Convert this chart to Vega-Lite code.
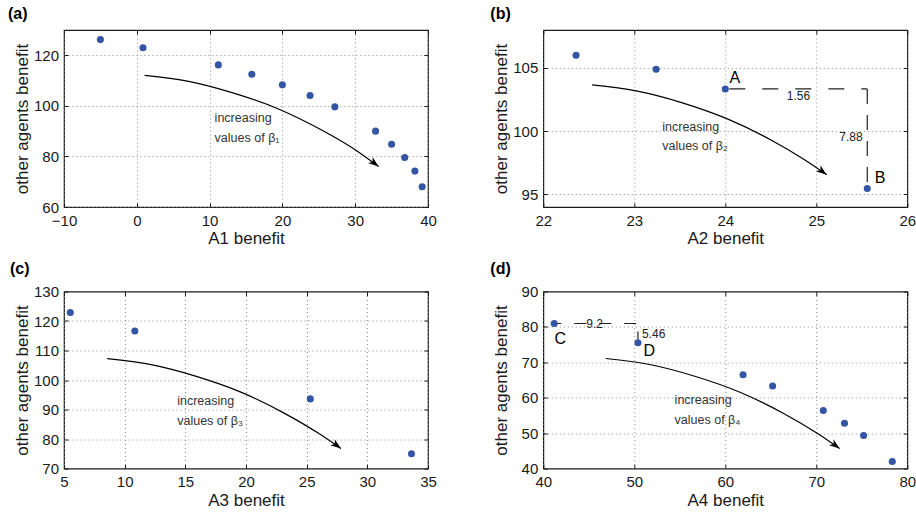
{
  "$schema": "https://vega.github.io/schema/vega-lite/v6.json",
  "background": "white",
  "padding": {"left": 7, "top": 5, "right": 0, "bottom": 0},
  "bounds": "flush",
  "columns": 2,
  "spacing": {"row": 84.5, "column": 115.3},
  "datasets": {
    "points": [
      {"panel": "a", "x": -5.0, "y": 126.2}, {"panel": "a", "x": 0.85, "y": 123.0}, {"panel": "a", "x": 11.2, "y": 116.2},
      {"panel": "a", "x": 15.8, "y": 112.5}, {"panel": "a", "x": 20.0, "y": 108.3}, {"panel": "a", "x": 23.8, "y": 104.1},
      {"panel": "a", "x": 27.2, "y": 99.6}, {"panel": "a", "x": 32.8, "y": 90.0}, {"panel": "a", "x": 35.0, "y": 84.8},
      {"panel": "a", "x": 36.8, "y": 79.6}, {"panel": "a", "x": 38.2, "y": 74.2}, {"panel": "a", "x": 39.2, "y": 68.0},
      {"panel": "b", "x": 22.36, "y": 106.0}, {"panel": "b", "x": 23.24, "y": 104.9}, {"panel": "b", "x": 24.0, "y": 103.34}, {"panel": "b", "x": 25.56, "y": 95.46},
      {"panel": "c", "x": 5.52, "y": 122.9}, {"panel": "c", "x": 10.84, "y": 116.6}, {"panel": "c", "x": 25.3, "y": 93.6}, {"panel": "c", "x": 33.64, "y": 75.0},
      {"panel": "d", "x": 41.2, "y": 80.96}, {"panel": "d", "x": 50.4, "y": 75.5}, {"panel": "d", "x": 61.95, "y": 66.5}, {"panel": "d", "x": 65.2, "y": 63.3},
      {"panel": "d", "x": 70.77, "y": 56.4}, {"panel": "d", "x": 73.1, "y": 52.8}, {"panel": "d", "x": 75.2, "y": 49.3}, {"panel": "d", "x": 78.35, "y": 42.0}
    ],
    "curves": [
      {"panel": "a", "x": 1.07, "y": 112.09}, {"panel": "a", "x": 7.12, "y": 109.7}, {"panel": "a", "x": 13.43, "y": 104.93},
      {"panel": "a", "x": 19.62, "y": 98.57}, {"panel": "a", "x": 25.52, "y": 90.22}, {"panel": "a", "x": 30.19, "y": 82.27}, {"panel": "a", "x": 33.21, "y": 76.0},
      {"panel": "b", "x": 22.536, "y": 103.66}, {"panel": "b", "x": 23.021, "y": 103.18}, {"panel": "b", "x": 23.528, "y": 102.24},
      {"panel": "b", "x": 24.023, "y": 100.97}, {"panel": "b", "x": 24.497, "y": 99.32}, {"panel": "b", "x": 24.871, "y": 97.74}, {"panel": "b", "x": 25.113, "y": 96.56},
      {"panel": "c", "x": 8.564, "y": 107.22}, {"panel": "c", "x": 12.185, "y": 105.19}, {"panel": "c", "x": 15.971, "y": 101.13},
      {"panel": "c", "x": 19.675, "y": 95.72}, {"panel": "c", "x": 23.214, "y": 88.61}, {"panel": "c", "x": 26.012, "y": 81.84}, {"panel": "c", "x": 27.823, "y": 76.77},
      {"panel": "d", "x": 46.85, "y": 71.07}, {"panel": "d", "x": 51.68, "y": 69.38}, {"panel": "d", "x": 56.74, "y": 65.99},
      {"panel": "d", "x": 61.68, "y": 61.47}, {"panel": "d", "x": 66.41, "y": 55.54}, {"panel": "d", "x": 70.14, "y": 49.89}, {"panel": "d", "x": 72.56, "y": 45.66}
    ],
    "tips": [
      {"panel": "a", "x": 33.21, "y": 76.0},
      {"panel": "b", "x": 25.113, "y": 96.56},
      {"panel": "c", "x": 27.823, "y": 76.77},
      {"panel": "d", "x": 72.56, "y": 45.66}
    ],
    "notes": [
      {"panel": "a", "kind": "label", "x": 10.69, "y": 93.56, "text": "increasing"},
      {"panel": "a", "kind": "label", "x": 10.69, "y": 85.84, "text": "values of β₁"},
      {"panel": "b", "kind": "label", "x": 23.307, "y": 100.0, "text": "increasing"},
      {"panel": "b", "kind": "label", "x": 23.307, "y": 98.5, "text": "values of β₂"},
      {"panel": "c", "kind": "label", "x": 14.33, "y": 91.66, "text": "increasing"},
      {"panel": "c", "kind": "label", "x": 14.33, "y": 84.89, "text": "values of β₃"},
      {"panel": "d", "kind": "label", "x": 54.43, "y": 58.08, "text": "increasing"},
      {"panel": "d", "kind": "label", "x": 54.43, "y": 52.43, "text": "values of β₄"},
      {"panel": "b", "kind": "letter", "x": 24.045, "y": 103.84, "text": "A"},
      {"panel": "b", "kind": "letter", "x": 25.642, "y": 95.87, "text": "B"},
      {"panel": "d", "kind": "letter", "x": 41.24, "y": 75.23, "text": "C"},
      {"panel": "d", "kind": "letter", "x": 51.02, "y": 71.72, "text": "D"},
      {"panel": "b", "kind": "value", "x": 24.676, "y": 102.45, "text": "1.56"},
      {"panel": "b", "kind": "value", "x": 25.252, "y": 99.24, "text": "7.88"},
      {"panel": "d", "kind": "value", "x": 44.73, "y": 79.75, "text": "9.2"},
      {"panel": "d", "kind": "value", "x": 50.85, "y": 76.92, "text": "5.46"}
    ],
    "dashes": [
      {"panel": "b", "seg": "h", "x": 24.0, "y": 103.34, "x2": 25.56, "y2": 103.34},
      {"panel": "b", "seg": "v", "x": 25.56, "y": 103.34, "x2": 25.56, "y2": 95.46},
      {"panel": "d", "seg": "h", "x": 41.2, "y": 80.96, "x2": 50.4, "y2": 80.96},
      {"panel": "d", "seg": "v", "x": 50.4, "y": 80.96, "x2": 50.4, "y2": 75.5}
    ]
  },
  "concat": [
    {
      "width": 364, "height": 177,
      "title": {"text": "(a)", "dx": -56},
      "resolve": {"axis": {"x": "independent", "y": "independent"}},
      "layer": [
        {
          "data": {"name": "curves"},
          "transform": [{"filter": "datum.panel == 'a'"}],
          "mark": {"type": "line", "interpolate": "monotone", "color": "#000", "strokeWidth": 1.2},
          "encoding": {
            "x": {"field": "x", "type": "quantitative", "scale": {"domain": [-10, 40], "nice": false, "zero": false}, "axis": {"values": [-10, 0, 10, 20, 30, 40], "title": "A1 benefit"}},
            "y": {"field": "y", "type": "quantitative", "scale": {"domain": [60, 130], "nice": false, "zero": false}, "axis": {"values": [60, 80, 100, 120], "title": "other agents benefit"}}
          }
        },
        {
          "data": {"name": "tips"},
          "transform": [{"filter": "datum.panel == 'a'"}],
          "mark": {"type": "point", "shape": "M0,0L-0.75,2.1L0,1.5L0.75,2.1Z", "filled": true, "color": "#000", "opacity": 1, "size": 100, "angle": 128},
          "encoding": {"x": {"field": "x", "type": "quantitative", "axis": null}, "y": {"field": "y", "type": "quantitative", "axis": null}}
        },
        {
          "data": {"name": "points"},
          "transform": [{"filter": "datum.panel == 'a'"}],
          "mark": {"type": "circle", "color": "#3454a4", "opacity": 1, "size": 50},
          "encoding": {
            "x": {"field": "x", "type": "quantitative", "axis": {"orient": "top", "values": [-10, 0, 10, 20, 30, 40], "labels": false, "grid": false, "title": null}},
            "y": {"field": "y", "type": "quantitative", "axis": {"orient": "right", "values": [60, 80, 100, 120], "labels": false, "grid": false, "title": null}}
          }
        },
        {
          "data": {"name": "notes"},
          "transform": [{"filter": "datum.panel == 'a' && datum.kind == 'label'"}],
          "mark": {"type": "text", "align": "left", "baseline": "alphabetic", "fontSize": 12.5, "color": "#333"},
          "encoding": {"x": {"field": "x", "type": "quantitative", "axis": null}, "y": {"field": "y", "type": "quantitative", "axis": null}, "text": {"field": "text"}}
        }
      ]
    },
    {
      "width": 364, "height": 177,
      "title": {"text": "(b)", "dx": -53},
      "resolve": {"axis": {"x": "independent", "y": "independent"}},
      "layer": [
        {
          "data": {"name": "curves"},
          "transform": [{"filter": "datum.panel == 'b'"}],
          "mark": {"type": "line", "interpolate": "monotone", "color": "#000", "strokeWidth": 1.2},
          "encoding": {
            "x": {"field": "x", "type": "quantitative", "scale": {"domain": [22, 26], "nice": false, "zero": false}, "axis": {"values": [22, 23, 24, 25, 26], "title": "A2 benefit"}},
            "y": {"field": "y", "type": "quantitative", "scale": {"domain": [94, 108], "nice": false, "zero": false}, "axis": {"values": [95, 100, 105], "title": "other agents benefit"}}
          }
        },
        {
          "data": {"name": "dashes"},
          "transform": [{"filter": "datum.panel == 'b' && datum.seg == 'h'"}],
          "mark": {"type": "rule", "color": "#222", "strokeWidth": 1.2, "strokeDash": [16, 17], "strokeDashOffset": -4},
          "encoding": {"x": {"field": "x", "type": "quantitative", "axis": null}, "x2": {"field": "x2"}, "y": {"field": "y", "type": "quantitative", "axis": null}, "y2": {"field": "y2"}}
        },
        {
          "data": {"name": "dashes"},
          "transform": [{"filter": "datum.panel == 'b' && datum.seg == 'v'"}],
          "mark": {"type": "rule", "color": "#222", "strokeWidth": 1.2, "strokeDash": [15, 11]},
          "encoding": {"x": {"field": "x", "type": "quantitative", "axis": null}, "x2": {"field": "x2"}, "y": {"field": "y", "type": "quantitative", "axis": null}, "y2": {"field": "y2"}}
        },
        {
          "data": {"name": "tips"},
          "transform": [{"filter": "datum.panel == 'b'"}],
          "mark": {"type": "point", "shape": "M0,0L-0.75,2.1L0,1.5L0.75,2.1Z", "filled": true, "color": "#000", "opacity": 1, "size": 100, "angle": 127},
          "encoding": {"x": {"field": "x", "type": "quantitative", "axis": null}, "y": {"field": "y", "type": "quantitative", "axis": null}}
        },
        {
          "data": {"name": "points"},
          "transform": [{"filter": "datum.panel == 'b'"}],
          "mark": {"type": "circle", "color": "#3454a4", "opacity": 1, "size": 50},
          "encoding": {
            "x": {"field": "x", "type": "quantitative", "axis": {"orient": "top", "values": [22, 23, 24, 25, 26], "labels": false, "grid": false, "title": null}},
            "y": {"field": "y", "type": "quantitative", "axis": {"orient": "right", "values": [95, 100, 105], "labels": false, "grid": false, "title": null}}
          }
        },
        {
          "data": {"name": "notes"},
          "transform": [{"filter": "datum.panel == 'b' && datum.kind == 'label'"}],
          "mark": {"type": "text", "align": "left", "baseline": "alphabetic", "fontSize": 12.5, "color": "#333"},
          "encoding": {"x": {"field": "x", "type": "quantitative", "axis": null}, "y": {"field": "y", "type": "quantitative", "axis": null}, "text": {"field": "text"}}
        },
        {
          "data": {"name": "notes"},
          "transform": [{"filter": "datum.panel == 'b' && datum.kind == 'letter'"}],
          "mark": {"type": "text", "align": "left", "baseline": "alphabetic", "fontSize": 16, "color": "#000"},
          "encoding": {"x": {"field": "x", "type": "quantitative", "axis": null}, "y": {"field": "y", "type": "quantitative", "axis": null}, "text": {"field": "text"}}
        },
        {
          "data": {"name": "notes"},
          "transform": [{"filter": "datum.panel == 'b' && datum.kind == 'value'"}],
          "mark": {"type": "text", "align": "left", "baseline": "alphabetic", "fontSize": 12, "color": "#222"},
          "encoding": {"x": {"field": "x", "type": "quantitative", "axis": null}, "y": {"field": "y", "type": "quantitative", "axis": null}, "text": {"field": "text"}}
        }
      ]
    },
    {
      "width": 364, "height": 177,
      "title": {"text": "(c)", "dx": -54},
      "resolve": {"axis": {"x": "independent", "y": "independent"}},
      "layer": [
        {
          "data": {"name": "curves"},
          "transform": [{"filter": "datum.panel == 'c'"}],
          "mark": {"type": "line", "interpolate": "monotone", "color": "#000", "strokeWidth": 1.2},
          "encoding": {
            "x": {"field": "x", "type": "quantitative", "scale": {"domain": [5, 35], "nice": false, "zero": false}, "axis": {"values": [5, 10, 15, 20, 25, 30, 35], "title": "A3 benefit"}},
            "y": {"field": "y", "type": "quantitative", "scale": {"domain": [70, 130], "nice": false, "zero": false}, "axis": {"values": [70, 80, 90, 100, 110, 120, 130], "title": "other agents benefit"}}
          }
        },
        {
          "data": {"name": "tips"},
          "transform": [{"filter": "datum.panel == 'c'"}],
          "mark": {"type": "point", "shape": "M0,0L-0.75,2.1L0,1.5L0.75,2.1Z", "filled": true, "color": "#000", "opacity": 1, "size": 100, "angle": 127},
          "encoding": {"x": {"field": "x", "type": "quantitative", "axis": null}, "y": {"field": "y", "type": "quantitative", "axis": null}}
        },
        {
          "data": {"name": "points"},
          "transform": [{"filter": "datum.panel == 'c'"}],
          "mark": {"type": "circle", "color": "#3454a4", "opacity": 1, "size": 50},
          "encoding": {
            "x": {"field": "x", "type": "quantitative", "axis": {"orient": "top", "values": [5, 10, 15, 20, 25, 30, 35], "labels": false, "grid": false, "title": null}},
            "y": {"field": "y", "type": "quantitative", "axis": {"orient": "right", "values": [70, 80, 90, 100, 110, 120, 130], "labels": false, "grid": false, "title": null}}
          }
        },
        {
          "data": {"name": "notes"},
          "transform": [{"filter": "datum.panel == 'c' && datum.kind == 'label'"}],
          "mark": {"type": "text", "align": "left", "baseline": "alphabetic", "fontSize": 12.5, "color": "#333"},
          "encoding": {"x": {"field": "x", "type": "quantitative", "axis": null}, "y": {"field": "y", "type": "quantitative", "axis": null}, "text": {"field": "text"}}
        }
      ]
    },
    {
      "width": 364, "height": 177,
      "title": {"text": "(d)", "dx": -53},
      "resolve": {"axis": {"x": "independent", "y": "independent"}},
      "layer": [
        {
          "data": {"name": "curves"},
          "transform": [{"filter": "datum.panel == 'd'"}],
          "mark": {"type": "line", "interpolate": "monotone", "color": "#000", "strokeWidth": 1.2},
          "encoding": {
            "x": {"field": "x", "type": "quantitative", "scale": {"domain": [40, 80], "nice": false, "zero": false}, "axis": {"values": [40, 50, 60, 70, 80], "title": "A4 benefit"}},
            "y": {"field": "y", "type": "quantitative", "scale": {"domain": [40, 90], "nice": false, "zero": false}, "axis": {"values": [40, 50, 60, 70, 80, 90], "title": "other agents benefit"}}
          }
        },
        {
          "data": {"name": "dashes"},
          "transform": [{"filter": "datum.panel == 'd' && datum.seg == 'h'"}],
          "mark": {"type": "rule", "color": "#222", "strokeWidth": 1.2, "strokeDash": [12, 13], "strokeDashOffset": 5},
          "encoding": {"x": {"field": "x", "type": "quantitative", "axis": null}, "x2": {"field": "x2"}, "y": {"field": "y", "type": "quantitative", "axis": null}, "y2": {"field": "y2"}}
        },
        {
          "data": {"name": "dashes"},
          "transform": [{"filter": "datum.panel == 'd' && datum.seg == 'v'"}],
          "mark": {"type": "rule", "color": "#222", "strokeWidth": 1.2, "strokeDash": [0, 8, 8, 100]},
          "encoding": {"x": {"field": "x", "type": "quantitative", "axis": null}, "x2": {"field": "x2"}, "y": {"field": "y", "type": "quantitative", "axis": null}, "y2": {"field": "y2"}}
        },
        {
          "data": {"name": "tips"},
          "transform": [{"filter": "datum.panel == 'd'"}],
          "mark": {"type": "point", "shape": "M0,0L-0.75,2.1L0,1.5L0.75,2.1Z", "filled": true, "color": "#000", "opacity": 1, "size": 100, "angle": 127},
          "encoding": {"x": {"field": "x", "type": "quantitative", "axis": null}, "y": {"field": "y", "type": "quantitative", "axis": null}}
        },
        {
          "data": {"name": "points"},
          "transform": [{"filter": "datum.panel == 'd'"}],
          "mark": {"type": "circle", "color": "#3454a4", "opacity": 1, "size": 50},
          "encoding": {
            "x": {"field": "x", "type": "quantitative", "axis": {"orient": "top", "values": [40, 50, 60, 70, 80], "labels": false, "grid": false, "title": null}},
            "y": {"field": "y", "type": "quantitative", "axis": {"orient": "right", "values": [40, 50, 60, 70, 80, 90], "labels": false, "grid": false, "title": null}}
          }
        },
        {
          "data": {"name": "notes"},
          "transform": [{"filter": "datum.panel == 'd' && datum.kind == 'label'"}],
          "mark": {"type": "text", "align": "left", "baseline": "alphabetic", "fontSize": 12.5, "color": "#333"},
          "encoding": {"x": {"field": "x", "type": "quantitative", "axis": null}, "y": {"field": "y", "type": "quantitative", "axis": null}, "text": {"field": "text"}}
        },
        {
          "data": {"name": "notes"},
          "transform": [{"filter": "datum.panel == 'd' && datum.kind == 'letter'"}],
          "mark": {"type": "text", "align": "left", "baseline": "alphabetic", "fontSize": 16, "color": "#000"},
          "encoding": {"x": {"field": "x", "type": "quantitative", "axis": null}, "y": {"field": "y", "type": "quantitative", "axis": null}, "text": {"field": "text"}}
        },
        {
          "data": {"name": "notes"},
          "transform": [{"filter": "datum.panel == 'd' && datum.kind == 'value'"}],
          "mark": {"type": "text", "align": "left", "baseline": "alphabetic", "fontSize": 12, "color": "#222"},
          "encoding": {"x": {"field": "x", "type": "quantitative", "axis": null}, "y": {"field": "y", "type": "quantitative", "axis": null}, "text": {"field": "text"}}
        }
      ]
    }
  ],
  "config": {
    "font": "Liberation Sans",
    "view": {"stroke": "#1a1a1a", "strokeWidth": 1.2},
    "title": {"anchor": "start", "frame": "group", "fontSize": 16, "fontWeight": "bold", "baseline": "alphabetic", "offset": 7.5, "color": "#000", "font": "Liberation Sans"},
    "axis": {
      "domain": false,
      "gridColor": "#7f7f7f", "gridDash": [1, 3], "gridWidth": 0.9,
      "tickSize": -4, "tickColor": "#1a1a1a", "tickWidth": 1,
      "labelFont": "Liberation Sans", "labelFontSize": 15, "labelColor": "#1a1a1a", "labelFlush": false, "labelOverlap": false,
      "titleFont": "Liberation Sans", "titleFontSize": 17, "titleFontWeight": "normal", "titleColor": "#1a1a1a"
    },
    "axisX": {"labelPadding": 10, "titleX": 182, "titleY": 36.5, "titleBaseline": "alphabetic"},
    "axisY": {"labelPadding": 9.5, "titleX": -37, "titleY": 88.5, "titleBaseline": "alphabetic"}
  }
}
